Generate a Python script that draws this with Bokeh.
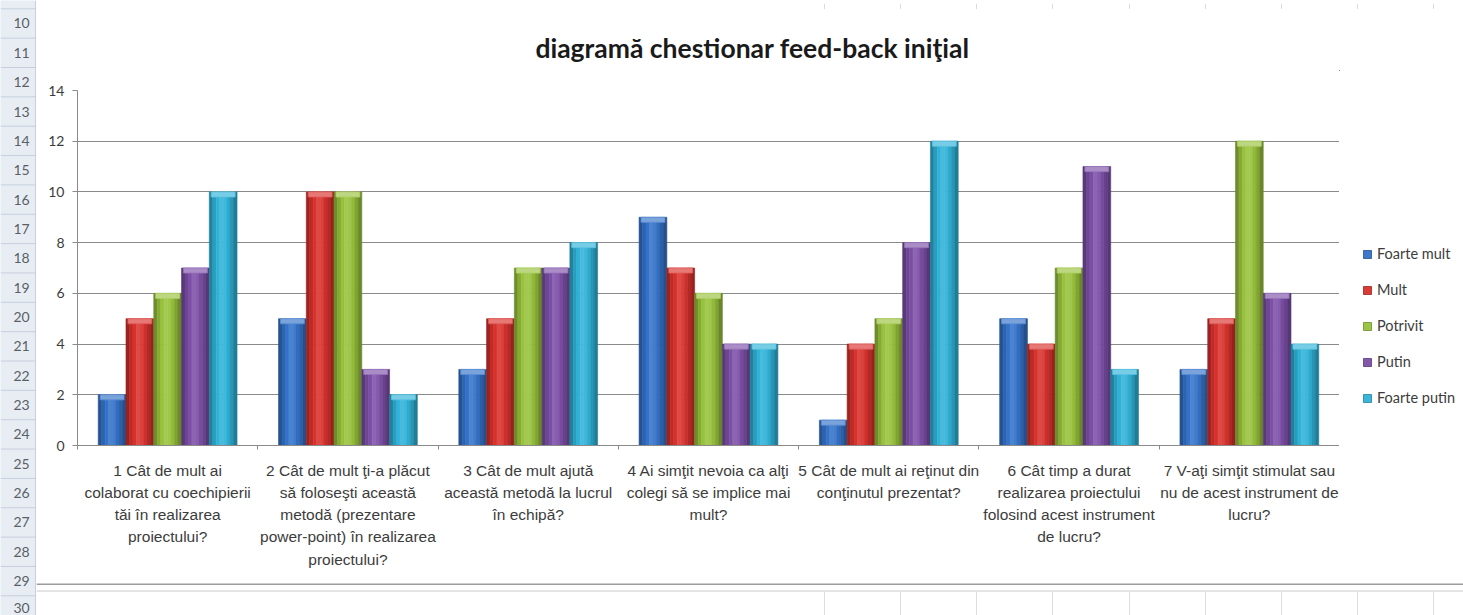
from bokeh.plotting import figure
from bokeh.layouts import row, column
from bokeh.models import (ColumnDataSource, Legend, LegendItem, FixedTicker,
                          CustomJSTickFormatter, Range1d)
from bokeh.core.properties import value
from bokeh.transform import dodge
from bokeh.embed import file_html
from bokeh.resources import INLINE

# ---- data -------------------------------------------------------------
TITLE = "diagramă chestionar feed-back iniţial"

SERIES = ["Foarte mult", "Mult", "Potrivit", "Putin", "Foarte putin"]

QUESTIONS = [
    "1 Cât de mult ai\ncolaborat cu coechipierii\ntăi în realizarea\nproiectului?",
    "2 Cât de mult ţi-a plăcut\nsă foloseşti această\nmetodă (prezentare\npower-point) în realizarea\nproiectului?",
    "3 Cât de mult ajută\naceastă metodă la lucrul\nîn echipă?",
    "4 Ai simţit nevoia ca alţi\ncolegi să se implice mai\nmult?",
    "5 Cât de mult ai reţinut din\nconţinutul prezentat?",
    "6 Cât timp a durat\nrealizarea proiectului\nfolosind acest instrument\nde lucru?",
    "7 V-aţi simţit stimulat sau\nnu de acest instrument de\nlucru?",
]

foarte_mult = [2, 5, 3, 9, 1, 5, 3]
mult = [5, 10, 5, 7, 4, 4, 5]
potrivit = [6, 10, 7, 6, 5, 7, 12]
putin = [7, 3, 7, 4, 8, 11, 6]
foarte_putin = [10, 2, 8, 4, 12, 3, 4]

Y_TICKS = [0, 2, 4, 6, 8, 10, 12, 14]
ROW_NUMBERS = list(range(10, 31))

# ---- styling ----------------------------------------------------------
COLORS = ["#3372c8", "#d8312c", "#98c23b", "#7c4fa7", "#2fb2d8"]
GRID = "#8a8a8a"
TEXT = "#3c3c3c"

W, H = 1463, 615
HDR = 36                       # width of the worksheet row header
FL, FR, FT, FB = 77, 1339, 90, 445   # plot area edges on the page
CHART_TOP, CHART_BOTTOM = 70, 583     # vertical span of the chart figure
SHEET_COLS = [824, 900, 976, 1052, 1129, 1205, 1281, 1357, 1433]


def shade(hexcol, f):
    r, g, b = (int(hexcol[i:i + 2], 16) for i in (1, 3, 5))
    if f >= 1:
        k = f - 1
        r, g, b = (c + (255 - c) * k for c in (r, g, b))
    else:
        r, g, b = (c * f for c in (r, g, b))
    return "#%02x%02x%02x" % tuple(int(max(0, min(255, round(c)))) for c in (r, g, b))


def strip_fig(w, h, x0, y0):
    """A borderless figure whose data space is page pixels (y downward)."""
    f = figure(width=w, height=h, output_backend="svg", toolbar_location=None,
               x_axis_type=None, y_axis_type=None,
               x_range=Range1d(x0, x0 + w), y_range=Range1d(y0 + h, y0),
               min_border=0, frame_align=False)
    f.outline_line_color = None
    f.grid.visible = False
    f.background_fill_color = "white"
    f.border_fill_color = "white"
    return f


# ---- chart ------------------------------------------------------------
source = ColumnDataSource(dict(
    pos=[i + 0.5 for i in range(len(QUESTIONS))],
    foarte_mult=foarte_mult, mult=mult, potrivit=potrivit,
    putin=putin, foarte_putin=foarte_putin,
))
COLS = ["foarte_mult", "mult", "potrivit", "putin", "foarte_putin"]

p = figure(width=FR - HDR, height=CHART_BOTTOM - CHART_TOP,
           output_backend="svg", toolbar_location=None, frame_align=False,
           x_range=Range1d(0, len(QUESTIONS)), y_range=Range1d(0, 14),
           min_border_left=FL - HDR, min_border_right=0,
           min_border_top=FT - CHART_TOP, min_border_bottom=CHART_BOTTOM - FB)
p.outline_line_color = None
p.background_fill_color = "white"
p.border_fill_color = "white"

p.xgrid.visible = False
p.ygrid.grid_line_color = GRID
p.ygrid.grid_line_width = 1
p.yaxis.ticker = FixedTicker(ticks=Y_TICKS)
p.yaxis.axis_line_color = GRID
p.yaxis.major_tick_line_color = GRID
p.yaxis.major_tick_out = 5
p.yaxis.major_tick_in = 0
p.yaxis.minor_tick_line_color = None
p.yaxis.major_label_text_font = "Lato"
p.yaxis.major_label_text_font_size = "14px"
p.yaxis.major_label_text_color = TEXT
p.yaxis.major_label_standoff = 8

# category names sit at the group centres, tick marks at the group boundaries
p.xaxis.ticker = FixedTicker(ticks=[i + 0.5 for i in range(len(QUESTIONS))],
                             minor_ticks=list(range(len(QUESTIONS) + 1)))
p.xaxis.formatter = CustomJSTickFormatter(args=dict(labels=QUESTIONS),
                                          code="return labels[Math.floor(tick)]")
p.xaxis.axis_line_color = GRID
p.xaxis.major_tick_line_color = None
p.xaxis.major_tick_out = 4
p.xaxis.major_tick_in = 0
p.xaxis.minor_tick_line_color = GRID
p.xaxis.minor_tick_out = 4
p.xaxis.minor_tick_in = 0
p.xaxis.major_label_standoff = 12
p.xaxis.major_label_text_font = "Liberation Sans"
p.xaxis.major_label_text_font_size = "15.5px"
p.xaxis.major_label_text_line_height = 1.31
p.xaxis.major_label_text_color = TEXT

# bars: vertical strips give each column a rounded, cylinder-like shading
BAR_W = 0.154
STRIPS = [0.72, 0.88, 1.0, 1.12, 1.08, 0.96, 0.84, 0.70]
CAP = 0.2
ns = len(STRIPS)
for j, (col, c) in enumerate(zip(COLS, COLORS)):
    off = (j - 2) * BAR_W
    for k, f in enumerate(STRIPS):
        so = off + (k - (ns - 1) / 2) * BAR_W / ns
        fc = shade(c, f)
        p.vbar(x=dodge("pos", so, range=p.x_range), top=col, bottom=0,
               width=BAR_W / ns, source=source, fill_color=fc,
               line_color=fc, line_width=0.6)
    cap_src = ColumnDataSource(dict(
        x=[i + 0.5 + off for i in range(len(QUESTIONS))],
        top=source.data[col],
        bottom=[v - CAP for v in source.data[col]],
    ))
    p.vbar(x="x", top="top", bottom="bottom", width=BAR_W * 0.86, source=cap_src,
           fill_color=shade(c, 1.35), line_color=shade(c, 1.2), line_width=0.8)

# ---- legend, in its own column to the right of the plot area ----------
key = strip_fig(W - FR, CHART_BOTTOM - CHART_TOP, FR, CHART_TOP)
items = []
for name, c in zip(SERIES, COLORS):
    # a swatch renderer placed far outside the visible range, used only for its key
    r = key.vbar(x=[-1e6], top=[0], bottom=[1], width=1,
                 fill_color=shade(c, 1.05), line_color=shade(c, 0.72), line_width=0.8)
    items.append(LegendItem(label=name, renderers=[r]))
key.add_layout(Legend(items=items, location=(1362 - FR, CHART_BOTTOM - 406),
                      glyph_width=10, glyph_height=10, label_height=16, spacing=19,
                      padding=0, margin=0, label_standoff=5,
                      label_text_font="Lato", label_text_font_size="14.5px",
                      label_text_color=TEXT, border_line_color=None,
                      background_fill_alpha=0), "center")

# ---- worksheet around the chart ---------------------------------------
ROW0, ROWH = 8.3, 29.35

header = strip_fig(HDR, H, 0, 0)
header.background_fill_color = "#e8edf4"
row_tops = [ROW0 + (r - 10) * ROWH for r in ROW_NUMBERS]
header.segment(x0=0, x1=HDR - 1, y0=row_tops, y1=row_tops, line_color="#c6cfdb", line_width=1)
header.segment(x0=[HDR - 0.5], x1=[HDR - 0.5], y0=[0], y1=[H], line_color="#9fb3cb", line_width=1)
header.text(x=[HDR / 2 + 3] * len(ROW_NUMBERS),
            y=[min(t + ROWH / 2, H - 8) for t in row_tops],
            text=[str(r) for r in ROW_NUMBERS], text_align="center",
            text_baseline="middle", text_font=value("Lato"),
            text_font_size="14px", text_color="#5a5f66")

top = strip_fig(W - HDR, 9, HDR, 0)
top.segment(x0=SHEET_COLS, x1=SHEET_COLS, y0=0, y1=7, line_color="#dcdcdc", line_width=1)
top.segment(x0=[HDR], x1=[W], y0=[8], y1=[8], line_color="#7a7a7a", line_width=1.3)

title = strip_fig(W - HDR, CHART_TOP - 9, HDR, 9)
title.text(x=[752], y=[47], text=[TITLE], text_align="center", text_baseline="middle",
           text_font=value("Lato"), text_font_style="bold", text_font_size="26.5px",
           text_color="#1a1a1a")

bottom = strip_fig(W - HDR, H - CHART_BOTTOM, HDR, CHART_BOTTOM)
bottom.segment(x0=[HDR], x1=[W], y0=[583.5], y1=[583.5], line_color="#7a7a7a", line_width=1.3)
bottom.segment(x0=[HDR], x1=[W], y0=[590.5], y1=[590.5], line_color="#c8c8c8", line_width=1)
bottom.segment(x0=SHEET_COLS, x1=SHEET_COLS, y0=591, y1=H, line_color="#dcdcdc", line_width=1)

page = row(header,
           column(top, title, row(p, key, spacing=0), bottom, spacing=0),
           spacing=0)

open("out.html", "w").write(file_html(page, INLINE))
